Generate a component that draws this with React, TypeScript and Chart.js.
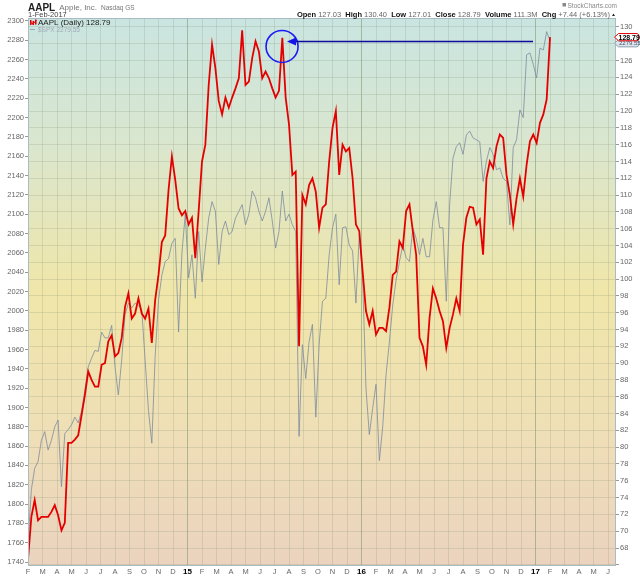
import React, { useEffect, useRef } from 'react';
import { Chart, registerables } from 'chart.js';

Chart.register(...registerables);

const FONT = '"Liberation Sans", Arial, sans-serif';

// Month letters for the x axis (January slot is replaced by the year number)
const monthLetters = ['J', 'F', 'M', 'A', 'M', 'J', 'J', 'A', 'S', 'O', 'N', 'D'];
const startYear = 2014; // chart starts 1-Feb-2014
const startMonthIndex = 1; // February
const monthsShown = 40.55;
const weeksPerMonth = 52 / 12;

// Weekly closes of AAPL (right axis), Feb 2014 .. 1 Feb 2017
const aaplWeekly = [
  66.6, 71.7, 73.7, 71.3, 71.7, 71.7, 71.7, 72.3, 73.1, 71.9,
  70.1, 71.0, 80.5, 80.5, 80.9, 81.4, 83.8, 86.2, 89.0, 88.0,
  87.2, 87.2, 89.8, 90.0, 92.6, 93.3, 90.8, 91.2, 93.0, 96.7,
  98.3, 95.3, 95.9, 97.7, 95.9, 95.3, 96.5, 92.4, 97.5, 100.5,
  104.4, 105.2, 110.6, 114.6, 111.8, 108.4, 107.6, 108.1, 106.5, 107.3,
  102.5, 108.1, 114.0, 116.0, 123.1, 127.9, 125.1, 121.2, 119.6, 121.6,
  120.4, 121.6, 122.7, 123.9, 129.6, 123.1, 123.5, 126.3, 128.3, 127.1,
  123.9, 124.7, 123.9, 122.7, 121.6, 122.4, 128.7, 121.6, 118.4, 112.4,
  112.8, 92.0, 110.0, 108.9, 111.2, 112.0, 110.4, 106.1, 108.5, 108.9,
  114.0, 118.0, 120.0, 112.4, 116.0, 115.2, 115.6, 112.0, 106.5, 105.7,
  100.9, 96.2, 94.6, 96.2, 93.4, 94.2, 94.2, 93.8, 96.6, 100.5,
  100.9, 104.5, 103.7, 108.1, 108.9, 105.7, 102.9, 93.0, 92.0, 89.8,
  95.4, 98.9, 97.7, 96.2, 95.0, 91.8, 94.2, 95.8, 97.7, 96.2,
  104.1, 107.3, 108.6, 108.5, 106.5, 107.1, 102.9, 112.0, 114.0, 113.2,
  115.8, 117.2, 116.8, 112.4, 110.0, 106.5, 109.6, 112.0, 109.8, 113.6,
  116.4, 117.2, 116.2, 118.6, 119.6, 121.4, 128.79,
];

// Weekly closes of $SPX (left axis)
const spxWeekly = [
  1759, 1815, 1837, 1844, 1866, 1875, 1856, 1866, 1880, 1887,
  1818, 1873, 1877, 1882, 1890, 1884, 1896, 1918, 1942, 1951,
  1959, 1958, 1978, 1972, 1972, 1985, 1942, 1913, 1949, 1996,
  2008, 2003, 2008, 2006, 2001, 1949, 1897, 1863, 1953, 2011,
  2037, 2051, 2054, 2070, 2075, 1978, 2060, 2100, 2034, 2058,
  2013, 2082, 2030, 2065, 2096, 2113, 2103, 2048, 2082, 2093,
  2079, 2082, 2096, 2103, 2110, 2089, 2100, 2124, 2117, 2103,
  2093, 2103, 2117, 2093, 2065, 2082, 2124, 2093, 2100, 2089,
  2082, 1870, 1965, 1930, 1968, 1986, 1890, 1965, 2010, 2013,
  2058, 2086, 2100, 2027, 2086, 2087, 2068, 2062, 2008, 2079,
  2034, 1920, 1872, 1899, 1924, 1845, 1880, 1934, 1968, 2006,
  2032, 2051, 2068, 2055, 2051, 2086, 2075, 2058, 2075, 2056,
  2056, 2094, 2113, 2086, 2086, 2010, 2110, 2158, 2170, 2174,
  2162, 2182, 2186, 2179, 2177, 2175, 2134, 2155, 2169, 2162,
  2146, 2148, 2137, 2134, 2089, 2169, 2177, 2208, 2200, 2265,
  2267, 2255, 2241, 2272, 2270, 2289, 2279.55,
];

// Axis ranges
const leftMin = 1735.9;
const leftMax = 2303.1;
const leftStep = 10;
const rightMin = 65.86;
const rightMax = 131.07;
const rightStep = 2;
const rightFirstLabel = 68;

// Header texts
const symbol = 'AAPL';
const companyName = 'Apple, Inc.';
const exchange = 'Nasdaq GS';
const dateText = '1-Feb-2017';
const quoteLabels = ['Open', 'High', 'Low', 'Close', 'Volume', 'Chg'];
const quoteValues = ['127.03', '130.40', '127.01', '128.79', '111.3M', '+7.44 (+6.13%)'];
const legendMain = 'AAPL (Daily) 128.79';
const legendSpx = '$SPX 2279.55';
const lastAapl = 128.79;
const lastSpx = 2279.55;
const credit = 'StockCharts.com';

// Annotation (blue circle + arrow)
const circleMonth = 17.52;
const circleValue = 127.68;
const arrowValue = 128.33;
const arrowFromMonth = 34.83;
const arrowToMonth = 17.86;

const isYearTick = (v: number) => Number.isInteger(v) && (v + startMonthIndex) % 12 === 0;
const tickLabel = (v: number) => {
  const m = (v + startMonthIndex) % 12;
  if (m === 0) return String(startYear + (v + startMonthIndex) / 12).slice(2);
  return monthLetters[m];
};

const bgPlugin = {
  id: 'bgGradient',
  beforeDraw(chart: any) {
    const { ctx, chartArea: a, width, height } = chart;
    ctx.save();
    ctx.fillStyle = '#ffffff';
    ctx.fillRect(0, 0, width, height);
    const g = ctx.createLinearGradient(0, a.top, 0, a.bottom);
    g.addColorStop(0, '#c9e5e1');
    g.addColorStop(0.22, '#d9e6cf');
    g.addColorStop(0.5, '#f0e6a9');
    g.addColorStop(0.75, '#efdfb6');
    g.addColorStop(1, '#ebd3bf');
    ctx.fillStyle = g;
    ctx.fillRect(a.left, a.top, a.right - a.left, a.bottom - a.top);
    ctx.restore();
  },
};

const annotationPlugin = {
  id: 'annot',
  afterDatasetsDraw(chart: any) {
    const { ctx, scales } = chart;
    const x = scales.x;
    const yR = scales.yR;
    ctx.save();
    const cx = x.getPixelForValue(circleMonth);
    const cy = yR.getPixelForValue(circleValue);
    ctx.strokeStyle = '#1a1af5';
    ctx.lineWidth = 1.6;
    ctx.beginPath();
    ctx.arc(cx, cy, 16, 0, Math.PI * 2);
    ctx.stroke();
    const ay = Math.round(yR.getPixelForValue(arrowValue)) + 0.5;
    const x1 = x.getPixelForValue(arrowFromMonth);
    const x2 = x.getPixelForValue(arrowToMonth);
    ctx.strokeStyle = '#0b0b9c';
    ctx.lineWidth = 1.3;
    ctx.beginPath();
    ctx.moveTo(x1, ay);
    ctx.lineTo(x2 + 6, ay);
    ctx.stroke();
    ctx.fillStyle = '#1414e6';
    ctx.beginPath();
    ctx.moveTo(x2, ay);
    ctx.lineTo(x2 + 9, ay - 4);
    ctx.lineTo(x2 + 9, ay + 4);
    ctx.closePath();
    ctx.fill();
    ctx.restore();
  },
};

const drawTag = (ctx: any, y: number, right: number, fill: string, stroke: string) => {
  const h = 3.6;
  ctx.beginPath();
  ctx.moveTo(614.5, y);
  ctx.lineTo(618.5, y - h);
  ctx.lineTo(right - 2, y - h);
  ctx.quadraticCurveTo(right, y - h, right, y);
  ctx.quadraticCurveTo(right, y + h, right - 2, y + h);
  ctx.lineTo(618.5, y + h);
  ctx.closePath();
  ctx.fillStyle = fill;
  ctx.fill();
  ctx.strokeStyle = stroke;
  ctx.lineWidth = 1;
  ctx.stroke();
};

const overlayPlugin = {
  id: 'overlay',
  afterDraw(chart: any) {
    const { ctx, chartArea: a, scales, width } = chart;
    ctx.save();
    // frame
    ctx.strokeStyle = '#a9bcc2';
    ctx.lineWidth = 1;
    ctx.strokeRect(a.left + 0.5, a.top + 0.5, a.right - a.left - 1, a.bottom - a.top - 1);

    // header left
    ctx.textBaseline = 'alphabetic';
    ctx.textAlign = 'left';
    ctx.fillStyle = '#222';
    ctx.font = `bold 10px ${FONT}`;
    ctx.fillText(symbol, 28, 10.5);
    const symW = ctx.measureText(symbol).width;
    ctx.fillStyle = '#777';
    ctx.font = `8px ${FONT}`;
    ctx.fillText(companyName, 28 + symW + 4, 10);
    const compW = ctx.measureText(companyName).width;
    ctx.font = `6.5px ${FONT}`;
    ctx.fillText(exchange, 28 + symW + 4 + compW + 4, 10);
    ctx.fillStyle = '#444';
    ctx.font = `7.5px ${FONT}`;
    ctx.fillText(dateText, 28, 16.5);

    // credit
    ctx.font = `6.5px ${FONT}`;
    ctx.fillStyle = '#888';
    const cw = ctx.measureText(credit).width;
    ctx.fillText(credit, 617 - cw, 7.5);
    ctx.fillRect(617 - cw - 5, 3, 3.5, 3.5);

    // quote line
    const parts: { t: string; bold: boolean }[] = [];
    quoteLabels.forEach((l, i) => {
      parts.push({ t: l + ' ', bold: true });
      parts.push({ t: quoteValues[i] + (i < quoteLabels.length - 1 ? '  ' : ''), bold: false });
    });
    let total = 0;
    parts.forEach((p) => {
      ctx.font = `${p.bold ? 'bold ' : ''}7.5px ${FONT}`;
      total += ctx.measureText(p.t).width;
    });
    let qx = 610 - total;
    parts.forEach((p) => {
      ctx.font = `${p.bold ? 'bold ' : ''}7.5px ${FONT}`;
      ctx.fillStyle = p.bold ? '#111' : '#666';
      ctx.fillText(p.t, qx, 16.5);
      qx += ctx.measureText(p.t).width;
    });
    ctx.fillStyle = '#222';
    ctx.beginPath();
    ctx.moveTo(612, 16);
    ctx.lineTo(615, 16);
    ctx.lineTo(613.5, 13.5);
    ctx.closePath();
    ctx.fill();

    // legend inside chart
    ctx.fillStyle = '#e00000';
    ctx.fillRect(30, 20, 1.5, 5);
    ctx.fillRect(32.5, 21, 1.5, 4);
    ctx.fillRect(35, 19.5, 1.5, 5);
    ctx.strokeStyle = '#e00000';
    ctx.lineWidth = 1;
    ctx.beginPath();
    ctx.moveTo(30, 22);
    ctx.lineTo(33, 24);
    ctx.lineTo(36.5, 20);
    ctx.stroke();
    ctx.fillStyle = '#222';
    ctx.font = `8px ${FONT}`;
    ctx.fillText(legendMain, 38, 25);
    ctx.strokeStyle = '#9aa6b2';
    ctx.beginPath();
    ctx.moveTo(30, 29.5);
    ctx.lineTo(35, 29.5);
    ctx.stroke();
    ctx.fillStyle = '#a0aab5';
    ctx.font = `6.5px ${FONT}`;
    ctx.fillText(legendSpx, 38, 32);

    // price tags on right axis
    const ys = scales.yL.getPixelForValue(lastSpx) + 2.5;
    drawTag(ctx, ys, width - 1, '#dfe6ee', '#8c9cac');
    ctx.fillStyle = '#44556a';
    ctx.font = `6px ${FONT}`;
    ctx.textBaseline = 'middle';
    ctx.fillText(String(lastSpx), 619, ys + 0.5);

    const ya = scales.yR.getPixelForValue(lastAapl);
    drawTag(ctx, ya, width - 1, '#ffffff', '#e00000');
    ctx.fillStyle = '#000';
    ctx.font = `bold 7px ${FONT}`;
    ctx.fillText(String(lastAapl), 618.5, ya + 0.5);
    ctx.restore();
  },
};

export default function App() {
  const ref = useRef<HTMLCanvasElement | null>(null);

  useEffect(() => {
    document.body.style.margin = '0';
    const canvas = ref.current;
    if (!canvas) return;
    const toPoints = (arr: number[]) => arr.map((v, i) => ({ x: i / weeksPerMonth, y: v }));
    const chart = new Chart(canvas, {
      type: 'line',
      data: {
        datasets: [
          {
            label: 'AAPL',
            data: toPoints(aaplWeekly),
            yAxisID: 'yR',
            borderColor: '#e40000',
            borderWidth: 1.8,
            pointRadius: 0,
            tension: 0,
            order: 0,
          },
          {
            label: '$SPX',
            data: toPoints(spxWeekly),
            yAxisID: 'yL',
            borderColor: 'rgba(125,140,160,0.8)',
            borderWidth: 1,
            pointRadius: 0,
            tension: 0,
            order: 1,
          },
        ],
      },
      options: {
        animation: false,
        responsive: false,
        devicePixelRatio: 1,
        layout: { padding: { top: 18, left: 0, right: 0, bottom: 0 } },
        plugins: {
          legend: { display: false },
          tooltip: { enabled: false },
          title: { display: false },
        },
        scales: {
          x: {
            type: 'linear',
            min: 0,
            max: monthsShown,
            afterFit: (s: any) => {
              s.height = 10;
            },
            border: { display: false },
            grid: {
              drawTicks: false,
              color: (c: any) =>
                c.tick && isYearTick(c.tick.value) ? 'rgba(120,150,110,0.55)' : 'rgba(130,145,120,0.22)',
            },
            ticks: {
              stepSize: 1,
              autoSkip: false,
              maxRotation: 0,
              includeBounds: false,
              padding: 1,
              font: (c: any) =>
                c.tick && isYearTick(c.tick.value)
                  ? { family: FONT, size: 8, weight: 'bold' }
                  : { family: FONT, size: 7.5 },
              color: (c: any) => (c.tick && isYearTick(c.tick.value) ? '#000' : '#666'),
              callback: (v: any) => tickLabel(Number(v)),
            },
          },
          yL: {
            type: 'linear',
            position: 'left',
            min: leftMin,
            max: leftMax,
            afterFit: (s: any) => {
              s.width = 28;
            },
            border: { display: false },
            grid: { drawOnChartArea: false, tickLength: 3, color: '#999' },
            ticks: {
              stepSize: leftStep,
              includeBounds: false,
              padding: 1,
              color: '#666',
              font: { family: FONT, size: 7.5 },
              callback: (v: any) => String(Math.round(Number(v))),
            },
          },
          yR: {
            type: 'linear',
            position: 'right',
            min: rightMin,
            max: rightMax,
            afterFit: (s: any) => {
              s.width = 24;
            },
            border: { display: false },
            grid: { color: 'rgba(130,145,120,0.22)', tickColor: '#999', tickLength: 3 },
            ticks: {
              stepSize: rightStep,
              includeBounds: false,
              padding: 1,
              color: '#666',
              font: { family: FONT, size: 7.5 },
              callback: (v: any) => (Number(v) >= rightFirstLabel ? String(Math.round(Number(v))) : ''),
            },
          },
        },
      },
      plugins: [bgPlugin, annotationPlugin, overlayPlugin],
    } as any);
    return () => chart.destroy();
  }, []);

  return (
    <canvas
      ref={ref}
      width={640}
      height={576}
      style={{ display: 'block', width: 640, height: 576 }}
    />
  );
}
